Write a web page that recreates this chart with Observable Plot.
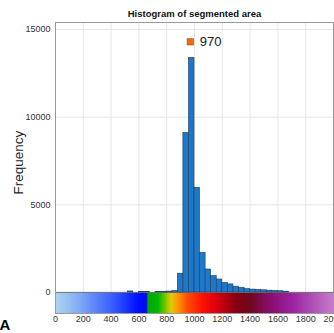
<!DOCTYPE html>
<html><head><meta charset="utf-8">
<script src="https://cdn.jsdelivr.net/npm/d3@7"></script>
<script src="https://cdn.jsdelivr.net/npm/@observablehq/plot@0.6"></script>
<style>body{margin:0;background:#fff;overflow:hidden}</style>
</head><body><div id="chart"></div>
<script>
const binWidth = 40;
const binStarts = [520,600,640,720,760,800,840,880,920,960,1000,1040,1080,1120,1160,1200,1240,1280,1320,1360,1400,1440,1480,1520,1560,1600,1640];
const counts    = [60,40,30,30,40,50,80,1070,9100,13380,5970,2260,1310,930,740,550,460,330,270,190,165,145,125,105,90,70,45];
const xTicks = [0,200,400,600,800,1000,1200,1400,1600,1800,2000];
const yTicks = [0,5000,10000,15000];
const xDomain = [0,2000];
const yDomain = [-1200,15400];
const colorbarBottom = -1200;
const colorStops = [0,150,300,450,600,660,668,740,790,835,880,950,1050,1150,1300,1400,1550,1700,1850,2000];
const colorHex   = ["#aed6f0","#88b2f4","#5c82f8","#3050ff","#0010ff","#0008f0","#00a800","#00b800","#70c400","#e0cc00","#ff9a00","#ff5000","#ff1800","#e00010","#8a0010","#700a20","#8a1070","#9b22a0","#b050b8","#c77ccc"];
const tip = {x: 970, y: 14300};
const title = "Histogram of segmented area";
const yLabel = "Frequency";

const bins = binStarts.map((s,i) => ({x1: s, x2: s + binWidth, y: counts[i]}));
const cbColor = d3.scaleLinear(colorStops, colorHex).interpolate(d3.interpolateRgb);
const cbStep = 4;
const cells = d3.range(xDomain[0], xDomain[1], cbStep).map(v => ({x1: v, x2: Math.min(xDomain[1], v + cbStep * 3), c: cbColor(v + cbStep/2)}));

const chart = Plot.plot({
  width: 334, height: 333,
  marginTop: 22, marginBottom: 20, marginLeft: 55, marginRight: 1,
  style: {fontFamily: "'Liberation Sans Narrow','Liberation Sans',Arial,sans-serif", fontSize: "9px", color: "#333", background: "#fff"},
  x: {domain: xDomain},
  y: {domain: yDomain},
  marks: [
    Plot.ruleX(xTicks, {stroke: "#e6e6e6", strokeWidth: 1}),
    Plot.ruleY(yTicks, {stroke: "#e6e6e6", strokeWidth: 1}),
    Plot.rect(cells, {x1: "x1", x2: "x2", y1: colorbarBottom, y2: 0, fill: "c"}),
    Plot.ruleY([0], {stroke: "#777", strokeWidth: 1}),
    Plot.rectY(bins, {x1: "x1", x2: "x2", y1: 0, y2: "y", fill: "#1f77c8", stroke: "#173f66", strokeWidth: 0.6}),
    Plot.dot([tip], {x: "x", y: "y", symbol: "square", r: 3.6, fill: "#f26a10", stroke: "#8a3a00", strokeWidth: 0.5}),
    Plot.text([tip], {x: "x", y: "y", text: d => String(d.x), dx: 9.5, textAnchor: "start", fontSize: 13, fill: "#222", fontFamily: "'Liberation Sans',Arial,sans-serif"}),
    Plot.axisX({ticks: xTicks, tickFormat: d => String(d), tickSize: 0, tickPadding: 2, label: null, fill: "#333", fontSize: 9}),
    Plot.axisY({ticks: yTicks, tickFormat: d => String(d), tickSize: 0, tickPadding: 5, label: null, fill: "#333", fontSize: 9}),
    Plot.frame({stroke: "#999", strokeWidth: 1}),
    Plot.text([title], {frameAnchor: "top", lineAnchor: "middle", dy: -8.5, fontWeight: "bold", fontSize: 9.5, fill: "#111"}),
    Plot.text([yLabel], {frameAnchor: "left", lineAnchor: "middle", rotate: -90, dx: -36.5, dy: 26.5, fontSize: 13.5, fill: "#262626", fontFamily: "'Liberation Sans',Arial,sans-serif"}),
    Plot.text(["A"], {frameAnchor: "bottom-left", lineAnchor: "middle", dx: -56, dy: 12, fontWeight: "bold", fontSize: 15, fill: "#000", fontFamily: "'Liberation Sans',Arial,sans-serif"})
  ]
});
document.getElementById("chart").appendChild(chart);
</script>
</body></html>
